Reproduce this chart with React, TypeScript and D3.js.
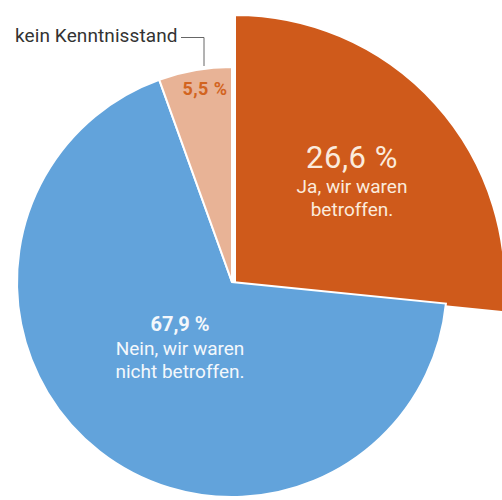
import { arc, pie } from "d3";

const categories = ["Ja, wir waren betroffen.", "Nein, wir waren nicht betroffen.", "kein Kenntnisstand"];
const values = [26.6, 67.9, 5.5];
const valueLabels = ["26,6 %", "67,9 %", "5,5 %"];
const colors = ["#CF5A1B", "#62A3DB", "#E8B396"];

export default function App() {
  const width = 502;
  const height = 500;
  const cx = 232;
  const cy = 282;
  const r = 215;
  const rBig = 270;

  const arcs = pie<number>().sort(null).value((d) => d)(values);
  const normalArc = arc<any>().innerRadius(0).outerRadius(r);
  const bigArc = arc<any>().innerRadius(0).outerRadius(rBig);

  return (
    <svg
      width={width}
      height={height}
      viewBox={`0 0 ${width} ${height}`}
      style={{ position: "absolute", left: 0, top: 0, background: "#fff", fontFamily: "Roboto, 'Noto Sans', sans-serif" }}
    >
      <g transform={`translate(${cx}, ${cy})`}>
        {arcs.map((a, i) =>
          i === 0 ? (
            <path key={i} d={bigArc(a) ?? ""} transform="translate(3, 3)" fill={colors[i]} stroke="#fff" strokeWidth={2} />
          ) : (
            <path key={i} d={normalArc(a) ?? ""} fill={colors[i]} stroke="#fff" strokeWidth={2} />
          )
        )}
      </g>

      {/* Ja */}
      <text x={352} y={168} textAnchor="middle" fill="#FBEBDD" fontSize={31} letterSpacing={0.5}>
        {valueLabels[0]}
      </text>
      <text x={352} y={193} textAnchor="middle" fill="#FBEBDD" fontSize={19}>
        Ja, wir waren
      </text>
      <text x={352} y={216} textAnchor="middle" fill="#FBEBDD" fontSize={19}>
        betroffen.
      </text>

      {/* Nein */}
      <text x={180} y={331} textAnchor="middle" fill="#F4F8FC" fontSize={20} fontWeight="bold">
        {valueLabels[1]}
      </text>
      <text x={180} y={355} textAnchor="middle" fill="#F4F8FC" fontSize={19}>
        Nein, wir waren
      </text>
      <text x={180} y={378} textAnchor="middle" fill="#F4F8FC" fontSize={19}>
        nicht betroffen.
      </text>

      {/* kein Kenntnisstand */}
      <text x={205} y={95} textAnchor="middle" fill="#D2641F" fontSize={18} fontWeight="bold" letterSpacing={0.4}>
        {valueLabels[2]}
      </text>
      <text x={15} y={42} fill="#333" fontSize={19} letterSpacing={0.1}>
        {categories[2]}
      </text>
      <polyline points="181,37.5 204,37.5 204,66" fill="none" stroke="#666" strokeWidth={1} />
    </svg>
  );
}
